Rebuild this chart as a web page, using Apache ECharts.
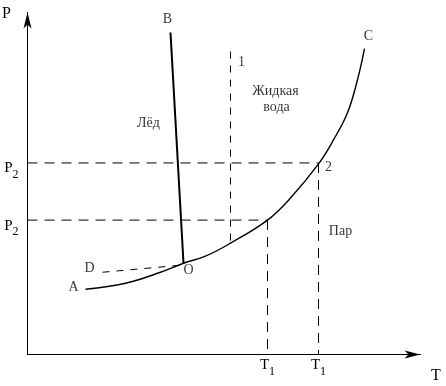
<!DOCTYPE html>
<html>
<head>
<meta charset="utf-8">
<script src="https://cdn.jsdelivr.net/npm/echarts@6/dist/echarts.min.js"></script>
<style>html,body{margin:0;padding:0;background:#fff;}#c{width:446px;height:386px;}</style>
</head>
<body>
<div id="c"></div>
<script>
// Phase diagram of water (schematic units)
const aocT = [58, 98, 133, 156, 178, 203, 240, 263, 291, 306, 320, 330, 337];
const aocP = [65, 71, 82, 91, 98, 111, 134, 156, 190, 214, 241, 274, 305];
const obT = [156, 143];
const obP = [91, 321];
const odT = [75, 153];
const odP = [82, 89];
const t1Values = [240, 291];
const p2Values = [134, 191];
const line1T = [203, 203];
const line1P = [302, 111];
const labelText = ['B', 'C', '1', 'Жидкая', 'вода', 'Лёд', '2', 'Пар', 'D', 'A', 'O'];
const labelT = [140, 341, 214, 248, 249, 121, 301, 313, 62, 46, 161];
const labelP = [334, 317, 291, 262, 246, 230, 187, 123, 86, 67, 84];

const FONT = 'Liberation Serif';
const zip = (a, b) => a.map((v, i) => [v, b[i]]);
const dashStyle = { color: '#000', width: 1, type: [10, 7] };
const dashLine = (pts) => ({
  type: 'line', data: pts, showSymbol: false, symbol: 'none', silent: true,
  lineStyle: dashStyle, z: 1
});
const subRich = {
  m: { fontFamily: FONT, fontSize: 15, lineHeight: 15, color: '#000', verticalAlign: 'top' },
  s: { fontFamily: FONT, fontSize: 12, lineHeight: 20, color: '#000', verticalAlign: 'bottom' }
};

const chart = echarts.init(document.getElementById('c'));
chart.setOption({
  animation: false,
  backgroundColor: '#fff',
  grid: { left: 27.5, right: 25.5, top: 12.5, bottom: 31.5 },
  xAxis: {
    type: 'value', min: 0, max: 393,
    splitLine: { show: false },
    axisTick: { show: false },
    axisLine: { onZero: false, lineStyle: { color: '#000', width: 1 }, symbol: ['none', 'arrow'], symbolSize: [6, 16] },
    axisLabel: {
      customValues: t1Values, margin: 3,
      formatter: () => '{m|T}{s|1}',
      rich: subRich
    }
  },
  yAxis: {
    type: 'value', min: 0, max: 341,
    splitLine: { show: false },
    axisTick: { show: false },
    axisLine: { onZero: false, lineStyle: { color: '#000', width: 1 }, symbol: ['none', 'arrow'], symbolSize: [6, 16] },
    axisLabel: {
      customValues: p2Values, margin: 9, padding: [16, 0, 0, 0],
      formatter: () => '{m|P}{s|2}',
      rich: subRich
    }
  },
  graphic: [
    { type: 'text', left: 2, top: 6, style: { text: 'P', font: '16px "Liberation Serif"', fill: '#000' } },
    { type: 'text', left: 431, top: 368, style: { text: 'T', font: '16px "Liberation Serif"', fill: '#000' } }
  ],
  series: [
    {
      type: 'line', smooth: 0.4, data: zip(aocT, aocP), showSymbol: false, symbol: 'none',
      lineStyle: { color: '#000', width: 1.4 }, z: 3
    },
    {
      type: 'line', data: zip(obT, obP), showSymbol: false, symbol: 'none',
      lineStyle: { color: '#000', width: 2 }, z: 3
    },
    {
      type: 'line', data: zip(odT, odP), showSymbol: false, symbol: 'none',
      lineStyle: { color: '#000', width: 1, type: [7, 7] }, z: 2
    },
    dashLine([[0, p2Values[1]], [t1Values[1], p2Values[1]]]),
    dashLine([[0, p2Values[0]], [t1Values[0], p2Values[0]]]),
    dashLine([[t1Values[0], p2Values[0]], [t1Values[0], 0]]),
    dashLine([[t1Values[1], p2Values[1]], [t1Values[1], 0]]),
    {
      type: 'line', data: zip(line1T, line1P), showSymbol: false, symbol: 'none',
      lineStyle: { color: '#000', width: 1, type: [7, 7] }, z: 1
    },
    {
      type: 'scatter', symbolSize: 0, silent: true,
      data: labelText.map((t, i) => ({ value: [labelT[i], labelP[i]], name: t })),
      label: {
        show: true, position: 'inside', formatter: p => p.name,
        fontFamily: FONT, fontSize: 14, color: '#000'
      }
    }
  ]
});
</script>
</body>
</html>
